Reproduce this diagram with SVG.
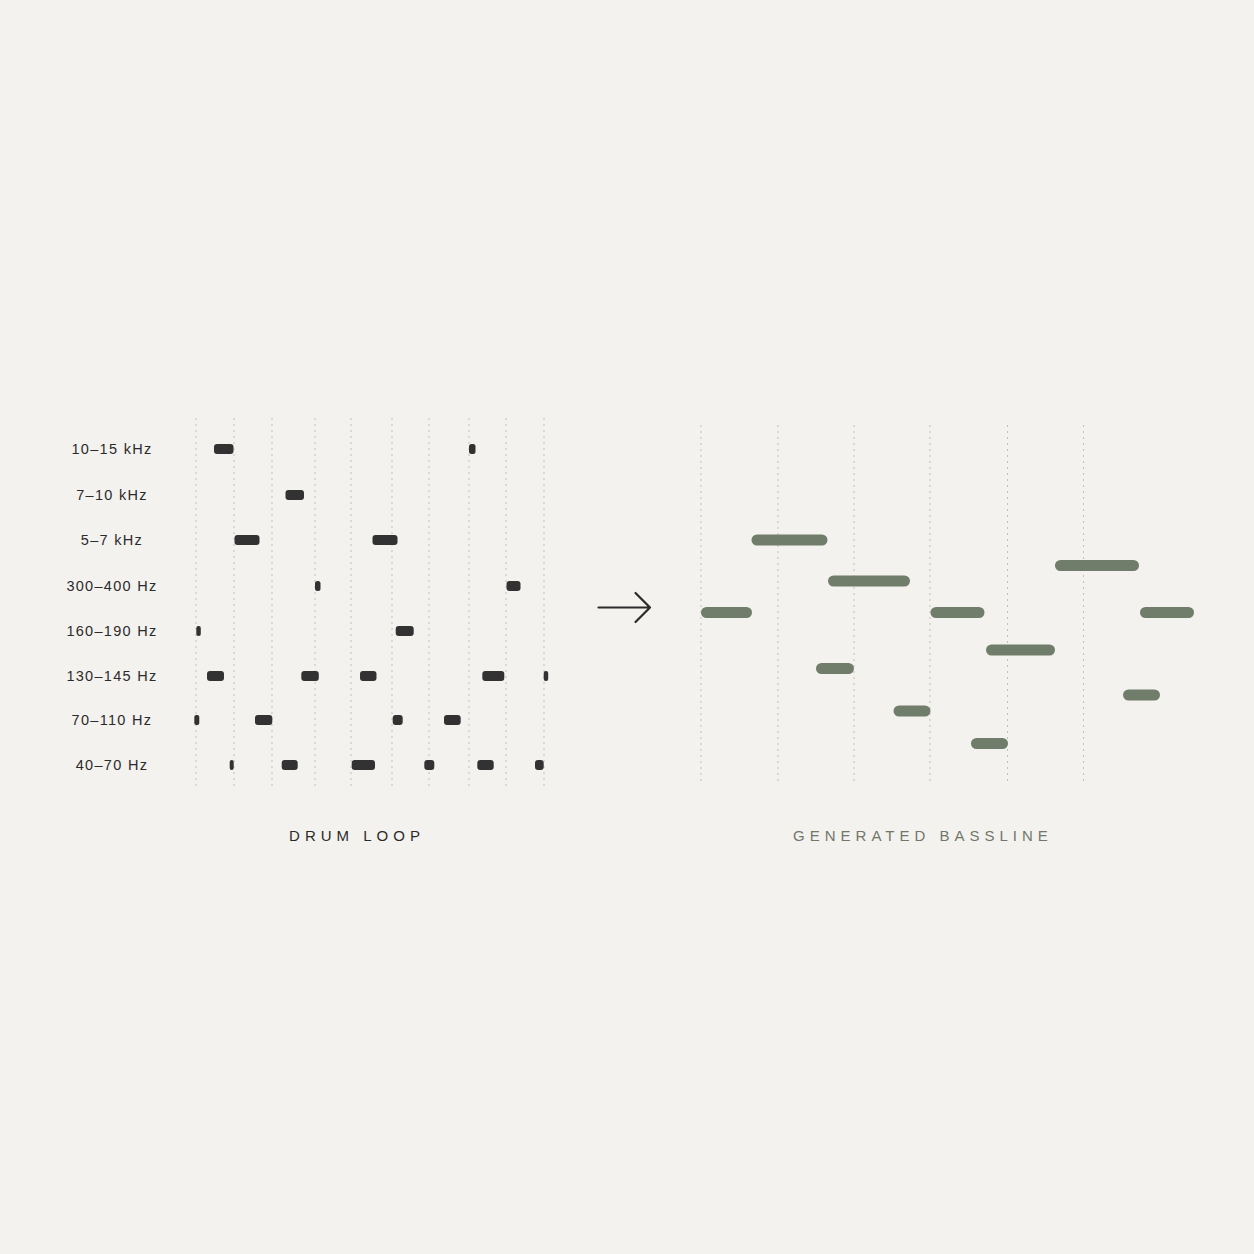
<svg xmlns="http://www.w3.org/2000/svg" width="1254" height="1254" viewBox="0 0 1254 1254">
<style>
.grid{stroke:#c3bfb9;stroke-width:1;stroke-dasharray:2 4;fill:none}
.hit{fill:#323232}
.note{fill:#717d6b}
.lbl{font-family:"Liberation Sans",Arial,sans-serif;font-size:14.5px;fill:#2b2b2b;letter-spacing:1.3px;text-anchor:middle}
.title{font-family:"Liberation Sans",Arial,sans-serif;font-size:15px;letter-spacing:5px;text-anchor:middle}
</style>
<rect width="1254" height="1254" fill="#f4f2ef"/>
<g id="drum-grid">
<line class="grid" x1="196" y1="418" x2="196" y2="787"/>
<line class="grid" x1="234" y1="418" x2="234" y2="787"/>
<line class="grid" x1="272" y1="418" x2="272" y2="787"/>
<line class="grid" x1="315" y1="418" x2="315" y2="787"/>
<line class="grid" x1="351" y1="418" x2="351" y2="787"/>
<line class="grid" x1="392" y1="418" x2="392" y2="787"/>
<line class="grid" x1="429" y1="418" x2="429" y2="787"/>
<line class="grid" x1="469" y1="418" x2="469" y2="787"/>
<line class="grid" x1="506" y1="418" x2="506" y2="787"/>
<line class="grid" x1="544" y1="418" x2="544" y2="787"/>
</g>
<g id="band-labels">
<text class="lbl" x="112" y="454">10–15 kHz</text>
<text class="lbl" x="112" y="500">7–10 kHz</text>
<text class="lbl" x="112" y="545">5–7 kHz</text>
<text class="lbl" x="112" y="591">300–400 Hz</text>
<text class="lbl" x="112" y="636">160–190 Hz</text>
<text class="lbl" x="112" y="681">130–145 Hz</text>
<text class="lbl" x="112" y="725">70–110 Hz</text>
<text class="lbl" x="112" y="770">40–70 Hz</text>
</g>
<g id="drum-hits">
<rect class="hit" x="214" y="444" width="19.5" height="10" rx="3"/>
<rect class="hit" x="469" y="444" width="6.5" height="10" rx="2.5"/>
<rect class="hit" x="285.5" y="490" width="18.5" height="10" rx="3"/>
<rect class="hit" x="234.5" y="535" width="25" height="10" rx="3"/>
<rect class="hit" x="372.5" y="535" width="25" height="10" rx="3"/>
<rect class="hit" x="315" y="581" width="5.5" height="10" rx="2.5"/>
<rect class="hit" x="506.5" y="581" width="14" height="10" rx="3"/>
<rect class="hit" x="196.3" y="626" width="4.5" height="10" rx="2"/>
<rect class="hit" x="395.7" y="626" width="18" height="10" rx="3"/>
<rect class="hit" x="207" y="671" width="17" height="10" rx="3"/>
<rect class="hit" x="301.3" y="671" width="17.5" height="10" rx="3"/>
<rect class="hit" x="360" y="671" width="16.5" height="10" rx="3"/>
<rect class="hit" x="482.3" y="671" width="22" height="10" rx="3"/>
<rect class="hit" x="543.7" y="671" width="4.5" height="10" rx="2"/>
<rect class="hit" x="194.3" y="715" width="5" height="10" rx="2"/>
<rect class="hit" x="255" y="715" width="17.3" height="10" rx="3"/>
<rect class="hit" x="392.7" y="715" width="10" height="10" rx="3"/>
<rect class="hit" x="444" y="715" width="16.7" height="10" rx="3"/>
<rect class="hit" x="229.7" y="760" width="4" height="10" rx="2"/>
<rect class="hit" x="281.7" y="760" width="16" height="10" rx="3"/>
<rect class="hit" x="351.7" y="760" width="23.3" height="10" rx="3"/>
<rect class="hit" x="424.3" y="760" width="10" height="10" rx="3"/>
<rect class="hit" x="477.3" y="760" width="16.4" height="10" rx="3"/>
<rect class="hit" x="535" y="760" width="8.7" height="10" rx="3"/>
</g>
<g id="connectors">
<path d="M598.5 607.5 H650 M635.5 593 L650 607.5 L635.5 622" fill="none" stroke="#2b2b2b" stroke-width="2.2" stroke-linecap="round" stroke-linejoin="round"/>
</g>
<g id="bass-grid">
<line class="grid" x1="701" y1="425" x2="701" y2="783"/>
<line class="grid" x1="778" y1="425" x2="778" y2="783"/>
<line class="grid" x1="854" y1="425" x2="854" y2="783"/>
<line class="grid" x1="930" y1="425" x2="930" y2="783"/>
<line class="grid" x1="1007.5" y1="425" x2="1007.5" y2="783"/>
<line class="grid" x1="1083.5" y1="425" x2="1083.5" y2="783"/>
</g>
<g id="bass-notes">
<rect class="note" x="701" y="607" width="51" height="11" rx="5.5"/>
<rect class="note" x="751.5" y="534.5" width="76" height="11" rx="5.5"/>
<rect class="note" x="828" y="575.5" width="82" height="11" rx="5.5"/>
<rect class="note" x="816" y="663" width="38" height="11" rx="5.5"/>
<rect class="note" x="893.5" y="705.5" width="37" height="11" rx="5.5"/>
<rect class="note" x="930.5" y="607" width="54" height="11" rx="5.5"/>
<rect class="note" x="986" y="644.5" width="69" height="11" rx="5.5"/>
<rect class="note" x="971" y="738" width="37" height="11" rx="5.5"/>
<rect class="note" x="1055" y="560" width="84" height="11" rx="5.5"/>
<rect class="note" x="1123" y="689.5" width="37" height="11" rx="5.5"/>
<rect class="note" x="1140" y="607" width="54" height="11" rx="5.5"/>
</g>
<g id="titles">
<text class="title" x="357" y="841" fill="#2b2b2b">DRUM LOOP</text>
<text class="title" x="923" y="841" fill="#717769">GENERATED BASSLINE</text>
</g>
</svg>
